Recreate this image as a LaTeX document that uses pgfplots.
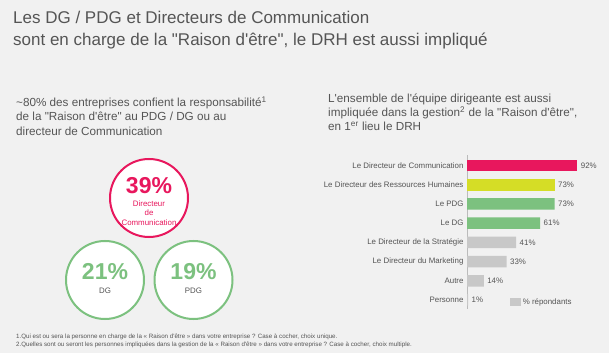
\documentclass[border=0pt]{standalone}
\usepackage{fontspec}
\setmainfont{Liberation Sans}[Ligatures=TeXOff]
\usepackage{pgfplots}
\pgfplotsset{compat=1.18}
\definecolor{bg}{HTML}{F1F1F1}
\definecolor{tgray}{HTML}{555555}
\definecolor{cred}{HTML}{E8175D}
\definecolor{cyel}{HTML}{D5DD26}
\definecolor{cgreen}{HTML}{7CC17F}
\definecolor{cgray}{HTML}{C8C8C8}
\definecolor{axgray}{HTML}{BBBBBB}
\begin{document}
\begin{tikzpicture}[x=1pt,y=1pt]
\fill[bg] (0,0) rectangle (609,353);
\coordinate (origin) at (0,0);
\coordinate (barNW) at (467,198);
% Title
\node[anchor=base west, inner sep=0, text=tgray, font=\fontsize{17}{20}\selectfont] at (13,329) {Les DG / PDG et Directeurs de Communication};
\node[anchor=base west, inner sep=0, text=tgray, font=\fontsize{17}{20}\selectfont] at (13,307) {sont en charge de la "Raison d'être", le DRH est aussi impliqué};
% Subtitles
\begin{scope}[every node/.style={anchor=base west, inner sep=0, text=tgray, font=\fontsize{11.7}{13}\selectfont}]
\node at (16,246) {\char`~80\% des entreprises confient la responsabilité\textsuperscript{1}};
\node at (16,232) {de la "Raison d'être" au PDG / DG ou au};
\node at (16,217.5) {directeur de Communication};
\node at (328,250) {L'ensemble de l'équipe dirigeante est aussi};
\node at (328,236) {impliquée dans la gestion\textsuperscript{2} de la "Raison d'être",};
\node at (328,222) {en 1\textsuperscript{er} lieu le DRH};
\end{scope}
% Footnotes
\begin{scope}[every node/.style={anchor=base west, inner sep=0, text=tgray, font=\fontsize{6.2}{7}\selectfont}]
\node at (16,15) {1.Qui est ou sera la personne en charge de la « Raison d'être » dans votre entreprise ? Case à cocher, choix unique.};
\node at (16,6.5) {2.Quelles sont ou seront les personnes impliquées dans la gestion de la « Raison d'être » dans votre entreprise ? Case à cocher, choix multiple.};
\end{scope}
% Circles
\begin{axis}[at={(origin)}, anchor=south west, scale only axis, width=609pt, height=353pt,
  xmin=0, xmax=609, ymin=0, ymax=353, hide axis, clip=false,
  /pgf/number format/assume math mode=true,
  point meta=explicit,
  nodes near coords={\pgfmathprintnumber{\pgfplotspointmeta}\%}]
\addplot[only marks, mark=*, mark size=39pt, mark options={draw=cred, fill=white, line width=2pt},
  every node near coord/.append style={anchor=center, yshift=12pt, text=cred, font=\bfseries\fontsize{23}{23}\selectfont}]
  coordinates {(149,155) [39]};
\addplot[only marks, mark=*, mark size=39pt, mark options={draw=cgreen, fill=white, line width=2pt},
  every node near coord/.append style={anchor=center, yshift=8pt, text=cgreen, font=\bfseries\fontsize{23}{23}\selectfont}]
  coordinates {(105,73) [21] (193.5,73) [19]};
\end{axis}
\node[text=cred, align=center, font=\fontsize{7.9}{9.5}\selectfont] at (149,140) {Directeur\\de\\Communication};
\node[text=tgray, font=\fontsize{7.9}{9.5}\selectfont] at (105,62.5) {DG};
\node[text=tgray, font=\fontsize{7.9}{9.5}\selectfont] at (193.5,62.5) {PDG};
% Bar chart
\begin{axis}[at={(barNW)}, anchor=north west, scale only axis, width=120pt, height=153.6pt,
  xbar, bar width=11.5pt, bar shift=0pt,
  xmin=0, xmax=100, ymin=-0.55, ymax=7.45, y dir=reverse,
  axis x line=none, axis y line*=left,
  y axis line style={draw=axgray, line width=1pt},
  ytick={0,...,7}, major tick length=0pt,
  yticklabels={Le Directeur de Communication, Le Directeur des Ressources Humaines, Le PDG, Le DG, Le Directeur de la Stratégie, Le Directeur du Marketing, Autre, Personne},
  yticklabel style={font=\fontsize{7.9}{9}\selectfont, text=tgray},
  /pgf/number format/assume math mode=true,
  point meta=x,
  nodes near coords={\pgfmathprintnumber{\pgfplotspointmeta}\%},
  nodes near coords style={font=\fontsize{7.9}{9}\selectfont, text=tgray},
  clip=false,
  legend style={at={(0.33,0.043)}, anchor=west, draw=none, fill=none, font=\fontsize{7.9}{9}\selectfont, text=tgray},
  legend image code/.code={\fill[cgray] (0pt,-4pt) rectangle (11pt,4pt);}]
\addplot[fill=cgray, draw=none] coordinates {(41,4) (33,5) (14,6) (1,7)};
\addlegendentry{\% répondants}
\addplot[fill=cred, draw=none, forget plot] coordinates {(92,0)};
\addplot[fill=cyel, draw=none, forget plot] coordinates {(73,1)};
\addplot[fill=cgreen, draw=none, forget plot] coordinates {(73,2) (61,3)};
\end{axis}
\end{tikzpicture}
\end{document}
